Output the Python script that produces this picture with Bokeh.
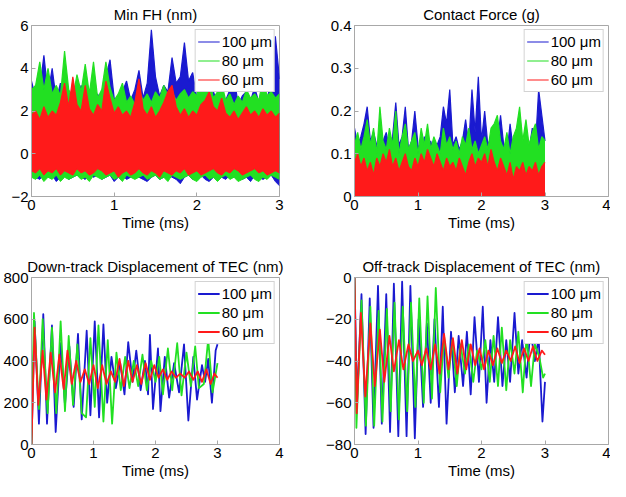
from bokeh.plotting import figure
from bokeh.layouts import gridplot
from bokeh.models import Range1d, FixedTicker
from bokeh.embed import file_html
from bokeh.resources import INLINE

FONT = "Liberation Sans"
FS = "15px"
FRAME = "#a8a8a8"
C100 = "#1a1ad0"
C80 = "#22e022"
C60 = "#ff1a1a"
labels = ["100 \u03bcm", "80 \u03bcm", "60 \u03bcm"]

# ---------------- Min FH (nm): sampled envelopes every 0.05 ms ----------------
t_dense = [round(0.05 * i, 2) for i in range(61)]

fh_up_100 = [3.4, 2.6, 3.0, 4.6, 2.8, 4.0, 2.5, 3.3, 2.6, 2.4, 2.9, 2.3, 3.2, 2.5, 3.0, 2.4,
             2.8, 2.3, 3.6, 4.4, 2.6, 2.4, 2.9, 3.4, 2.5, 3.0, 3.9, 2.6, 3.3, 5.8, 3.6, 2.7,
             3.2, 2.9, 4.5, 3.3, 3.6, 5.2, 3.4, 3.8, 2.6, 3.0, 3.2, 2.5, 2.9, 2.4, 2.8, 2.5,
             3.0, 3.6, 2.3, 2.7, 2.9, 2.5, 3.1, 2.4, 2.8, 2.6, 3.3, 5.5, 3.5]
fh_lo_100 = [-1.0, -1.1, -1.2, -1.0, -1.1, -1.0, -1.3, -1.1, -1.0, -1.2, -1.1, -1.0, -1.1, -1.2,
             -1.0, -1.1, -1.0, -1.2, -1.1, -1.0, -1.3, -1.1, -1.0, -1.2, -1.1, -1.0, -1.1, -1.2,
             -1.3, -1.1, -1.0, -1.2, -1.1, -1.0, -1.1, -1.2, -1.4, -1.1, -1.0, -1.2, -1.1, -1.0,
             -1.2, -1.3, -1.1, -1.0, -1.1, -1.2, -1.0, -1.1, -1.0, -1.2, -1.1, -1.3, -1.0, -1.1,
             -1.2, -1.1, -1.0, -1.3, -1.5]
fh_up_80 = [3.0, 3.2, 4.3, 3.0, 4.0, 2.8, 3.2, 2.7, 4.8, 3.0, 2.6, 3.7, 2.9, 4.2, 2.8, 4.3,
            2.6, 3.0, 4.3, 3.1, 2.5, 2.8, 3.3, 2.4, 2.7, 2.3, 3.0, 2.5, 2.8, 2.4, 2.9, 2.6,
            3.2, 2.7, 2.9, 2.5, 2.8, 3.0, 2.6, 2.9, 2.7, 3.9, 3.0, 3.5, 2.6, 2.9, 3.3, 2.5,
            2.8, 2.3, 2.7, 2.4, 3.0, 2.6, 2.8, 2.5, 3.5, 2.7, 2.9, 2.6, 2.8]
fh_lo_80 = [-1.1, -1.2, -1.0, -1.3, -1.1, -1.2, -1.0, -1.3, -1.1, -1.2, -1.1, -1.0, -1.2, -1.1,
            -1.3, -1.0, -1.1, -1.2, -1.1, -1.0, -1.2, -1.1, -1.3, -1.0, -1.1, -1.2, -1.1, -1.0,
            -1.2, -1.1, -1.0, -1.2, -1.1, -1.3, -1.0, -1.1, -1.2, -1.1, -1.0, -1.2, -1.3, -1.1,
            -1.0, -1.2, -1.1, -1.3, -1.1, -1.0, -1.2, -1.1, -1.3, -1.2, -1.1, -1.0, -1.2, -1.3,
            -1.1, -1.2, -1.0, -1.1, -1.2]
fh_up_60 = [1.8, 2.0, 1.6, 2.2, 1.7, 2.0, 1.8, 2.4, 3.3, 2.2, 3.6, 2.3, 2.0, 3.2, 2.1, 1.8,
            2.3, 2.0, 3.4, 2.6, 1.9, 2.2, 1.8, 2.0, 1.7, 2.4, 3.5, 2.1, 1.8, 2.2, 1.7, 2.0,
            2.4, 2.9, 3.2, 2.2, 1.8, 2.1, 1.7, 2.0, 1.8, 2.3, 2.5, 2.9, 2.2, 2.0, 2.6, 1.9,
            1.7, 2.0, 1.6, 1.9, 2.2, 1.8, 2.0, 1.7, 2.1, 1.8, 2.0, 1.7, 1.9]
fh_lo_60 = [-0.8, -0.9, -0.7, -1.0, -0.8, -0.9, -0.7, -1.0, -0.8, -0.9, -1.0, -0.7, -0.9, -0.8,
            -1.0, -0.9, -0.7, -0.8, -1.0, -0.9, -0.8, -1.1, -0.9, -0.8, -1.0, -0.9, -0.7, -0.9,
            -1.0, -0.8, -0.9, -1.1, -0.8, -0.9, -1.0, -0.8, -0.9, -0.7, -1.0, -0.9, -0.8, -1.0,
            -0.9, -0.8, -0.7, -0.9, -1.0, -0.8, -0.9, -0.7, -0.8, -1.0, -0.9, -0.8, -0.7, -0.9,
            -0.8, -1.0, -0.9, -0.8, -0.9]

# ---------------- Contact Force (g): upper envelopes every 0.05 ms ----------------
cf_up_100 = [0.16, 0.12, 0.14, 0.17, 0.21, 0.13, 0.15, 0.12, 0.10, 0.13, 0.15, 0.11, 0.14, 0.22,
             0.12, 0.14, 0.21, 0.11, 0.13, 0.20, 0.12, 0.10, 0.14, 0.11, 0.13, 0.10, 0.12, 0.14,
             0.21, 0.17, 0.25, 0.12, 0.14, 0.11, 0.13, 0.18, 0.12, 0.25, 0.15, 0.28, 0.13, 0.20,
             0.12, 0.14, 0.11, 0.13, 0.19, 0.12, 0.10, 0.17, 0.11, 0.13, 0.10, 0.12, 0.14, 0.11,
             0.16, 0.12, 0.25, 0.19, 0.13]
cf_up_80 = [0.12, 0.15, 0.11, 0.14, 0.18, 0.12, 0.16, 0.10, 0.21, 0.13, 0.11, 0.16, 0.12, 0.20,
            0.10, 0.14, 0.17, 0.11, 0.13, 0.15, 0.10, 0.16, 0.12, 0.17, 0.11, 0.14, 0.12, 0.10,
            0.16, 0.12, 0.14, 0.11, 0.13, 0.10, 0.14, 0.12, 0.16, 0.11, 0.13, 0.10, 0.12, 0.14,
            0.11, 0.16, 0.17, 0.19, 0.13, 0.11, 0.15, 0.10, 0.14, 0.16, 0.21, 0.13, 0.18, 0.12,
            0.15, 0.17, 0.11, 0.14, 0.13]
cf_up_60 = [0.08, 0.10, 0.07, 0.09, 0.06, 0.08, 0.05, 0.09, 0.07, 0.10, 0.08, 0.11, 0.07, 0.09,
            0.06, 0.08, 0.10, 0.07, 0.06, 0.09, 0.07, 0.10, 0.08, 0.11, 0.09, 0.07, 0.10, 0.08,
            0.06, 0.09, 0.07, 0.08, 0.06, 0.09, 0.07, 0.05, 0.08, 0.10, 0.07, 0.09, 0.08, 0.10,
            0.07, 0.11, 0.08, 0.06, 0.09, 0.07, 0.05, 0.08, 0.04, 0.07, 0.06, 0.08, 0.05, 0.07,
            0.06, 0.08, 0.05, 0.07, 0.08]

# ---------------- Down-track displacement (nm): extrema ----------------
dt_t_100 = [0.00, 0.05, 0.12, 0.19, 0.25, 0.33, 0.39, 0.47, 0.54, 0.61, 0.68, 0.75, 0.81, 0.89,
            0.95, 1.02, 1.09, 1.16, 1.22, 1.29, 1.36, 1.43, 1.50, 1.56, 1.63, 1.69, 1.76, 1.83,
            1.88, 1.91, 1.96, 2.04, 2.08, 2.15, 2.22, 2.30, 2.38, 2.46, 2.53, 2.61, 2.67, 2.75,
            2.80, 2.85, 2.91, 2.97, 3.00]
dt_v_100 = [0, 590, 100, 625, 100, 570, 60, 485, 190, 470, 180, 530, 120, 545, 140, 590, 130,
            575, 200, 420, 270, 390, 240, 490, 300, 450, 260, 400, 240, 525, 170, 460, 160, 420,
            225, 390, 250, 480, 115, 420, 215, 380, 300, 410, 200, 450, 480]
dt_t_80 = [0.00, 0.04, 0.12, 0.18, 0.26, 0.33, 0.40, 0.47, 0.54, 0.60, 0.67, 0.74, 0.81, 0.88,
           0.95, 1.02, 1.08, 1.16, 1.23, 1.30, 1.37, 1.44, 1.51, 1.58, 1.65, 1.72, 1.79, 1.86,
           1.93, 2.00, 2.06, 2.12, 2.20, 2.27, 2.35, 2.42, 2.50, 2.57, 2.64, 2.70, 2.78, 2.85,
           2.92, 3.00]
dt_v_80 = [0, 630, 170, 600, 150, 560, 150, 590, 160, 520, 190, 480, 150, 130, 510, 180, 570,
           110, 500, 100, 440, 260, 420, 270, 400, 280, 430, 260, 400, 300, 420, 240, 460, 260,
           485, 235, 440, 280, 470, 270, 290, 505, 250, 390]
dt_t_60 = [0.00, 0.05, 0.11, 0.18, 0.24, 0.31, 0.38, 0.45, 0.52, 0.58, 0.65, 0.72, 0.79, 0.86,
           0.93, 1.00, 1.07, 1.14, 1.21, 1.28, 1.35, 1.42, 1.49, 1.56, 1.63, 1.70, 1.77, 1.84,
           1.91, 1.98, 2.05, 2.12, 2.19, 2.26, 2.33, 2.40, 2.47, 2.54, 2.61, 2.68, 2.75, 2.82,
           2.89, 2.95, 3.00]
dt_v_60 = [0, 560, 190, 450, 215, 440, 250, 430, 265, 450, 290, 400, 300, 360, 290, 380, 270,
           380, 290, 350, 300, 410, 280, 400, 300, 380, 290, 390, 310, 380, 320, 360, 310, 350,
           320, 340, 320, 350, 310, 350, 300, 360, 290, 340, 320]

# ---------------- Off-track displacement (nm): extrema ----------------
ot_t_100 = [0.00, 0.04, 0.11, 0.175, 0.24, 0.30, 0.37, 0.43, 0.50, 0.56, 0.62, 0.69, 0.75, 0.82,
            0.88, 0.95, 1.01, 1.08, 1.14, 1.20, 1.26, 1.33, 1.39, 1.45, 1.52, 1.58, 1.64, 1.71,
            1.77, 1.83, 1.89, 1.96, 2.02, 2.08, 2.14, 2.20, 2.26, 2.33, 2.39, 2.45, 2.52, 2.58,
            2.64, 2.71, 2.77, 2.84, 2.90, 2.96, 3.00]
ot_v_100 = [0, -60, -8, -75, -10, -72, -4, -70, -8, -74, -3, -76, -2, -76, -4, -77, -20, -62,
            -22, -60, -20, -62, -14, -70, -26, -55, -28, -52, -26, -56, -19, -50, -14, -60, -30,
            -50, -19, -52, -30, -50, -17, -46, -30, -48, -25, -40, -29, -69, -50]
ot_t_80 = [0.00, 0.03, 0.11, 0.18, 0.25, 0.31, 0.38, 0.44, 0.51, 0.57, 0.63, 0.70, 0.76, 0.83,
           0.89, 0.96, 1.02, 1.09, 1.15, 1.22, 1.28, 1.35, 1.41, 1.48, 1.54, 1.61, 1.67, 1.74,
           1.80, 1.87, 1.93, 2.00, 2.06, 2.13, 2.19, 2.26, 2.32, 2.39, 2.45, 2.52, 2.58, 2.65,
           2.71, 2.78, 2.84, 2.91, 2.97, 3.00]
ot_v_80 = [0, -72, -11, -71, -14, -71, -16, -69, -15, -64, -12, -68, -14, -64, -12, -62, -10,
           -60, -9, -58, -5, -55, -28, -48, -30, -52, -32, -46, -32, -50, -35, -44, -30, -50,
           -28, -52, -24, -54, -30, -46, -26, -55, -28, -52, -32, -38, -48, -46]
ot_t_60 = [0.00, 0.035, 0.10, 0.17, 0.25, 0.32, 0.40, 0.47, 0.55, 0.62, 0.70, 0.77, 0.85, 0.92,
           1.00, 1.06, 1.13, 1.20, 1.27, 1.34, 1.41, 1.48, 1.55, 1.62, 1.69, 1.76, 1.83, 1.90,
           1.97, 2.04, 2.11, 2.18, 2.25, 2.32, 2.39, 2.46, 2.53, 2.60, 2.67, 2.74, 2.81, 2.88,
           2.95, 3.00]
ot_v_60 = [0, -65, -17, -57, -22, -52, -25, -50, -28, -45, -30, -44, -32, -40, -35, -42, -34,
           -44, -32, -46, -27, -44, -29, -46, -30, -44, -32, -42, -34, -44, -35, -42, -34, -41,
           -35, -40, -33, -41, -34, -40, -33, -40, -35, -37]


def make_fig(title, xr, yr, xticks, yticks, w, h, bl, br, bt, bb):
    p = figure(width=w, height=h, x_range=Range1d(*xr), y_range=Range1d(*yr),
               output_backend="svg", toolbar_location=None, title=title,
               min_border_left=bl, min_border_right=br, min_border_top=bt, min_border_bottom=bb)
    p.xgrid.visible = False
    p.ygrid.visible = False
    p.outline_line_color = FRAME
    p.outline_line_width = 1
    p.background_fill_color = "white"
    p.title.text_font = FONT
    p.title.text_font_size = FS
    p.title.text_font_style = "normal"
    p.title.text_color = "black"
    p.title.align = "center"
    p.title.standoff = 5
    p.xaxis.ticker = FixedTicker(ticks=xticks)
    p.yaxis.ticker = FixedTicker(ticks=yticks)
    p.xaxis.axis_label = "Time (ms)"
    for ax in list(p.xaxis) + list(p.yaxis):
        ax.axis_line_color = FRAME
        ax.major_tick_line_color = FRAME
        ax.major_tick_in = 4
        ax.major_tick_out = 0
        ax.minor_tick_line_color = None
        ax.major_label_text_font = FONT
        ax.major_label_text_font_size = FS
        ax.major_label_text_color = "black"
        ax.major_label_standoff = 3
        ax.axis_label_text_font = FONT
        ax.axis_label_text_font_size = FS
        ax.axis_label_text_font_style = "normal"
        ax.axis_label_text_color = "black"
        ax.axis_label_standoff = 1
    return p


def style_legend(p):
    lg = p.legend[0]
    lg.location = "top_right"
    lg.margin = 4
    lg.padding = 2
    lg.spacing = 0
    lg.label_standoff = 2
    lg.glyph_width = 22
    lg.glyph_height = 19
    lg.label_height = 19
    lg.label_text_font = FONT
    lg.label_text_font_size = FS
    lg.label_text_color = "black"
    lg.border_line_color = FRAME
    lg.border_line_width = 1
    lg.background_fill_alpha = 1.0


# Panel 1: Min FH
p1 = make_fig("Min FH (nm)", (0, 3), (-2, 6), [0, 1, 2, 3], [-2, 0, 2, 4, 6],
              305, 248, 19, 26, 25, 52)
for up, lo, c, lab in ((fh_up_100, fh_lo_100, C100, labels[0]),
                       (fh_up_80, fh_lo_80, C80, labels[1]),
                       (fh_up_60, fh_lo_60, C60, labels[2])):
    p1.varea(x=t_dense, y1=lo, y2=up, fill_color=c)
    p1.line(t_dense, up, line_color=c, line_width=1.2, legend_label=lab)
    p1.line(t_dense, lo, line_color=c, line_width=1)
style_legend(p1)

# Panel 2: Contact Force
p2 = make_fig("Contact Force (g)", (0, 4), (0, 0.4), [0, 1, 2, 3, 4], [0, 0.1, 0.2, 0.3, 0.4],
              305, 248, 49, 2, 25, 52)
for up, c, lab in ((cf_up_100, C100, labels[0]), (cf_up_80, C80, labels[1]),
                   (cf_up_60, C60, labels[2])):
    p2.varea(x=t_dense, y1=0, y2=up, fill_color=c)
    p2.line(t_dense, up, line_color=c, line_width=1.2, legend_label=lab)
style_legend(p2)

# Panel 3: Down-track
p3 = make_fig("Down-track Displacement of TEC (nm)", (0, 4), (0, 800), [0, 1, 2, 3, 4],
              [0, 200, 400, 600, 800], 305, 233, 23, 26, 29, 37)
for tt, vv, c, lab in ((dt_t_100, dt_v_100, C100, labels[0]), (dt_t_80, dt_v_80, C80, labels[1]),
                       (dt_t_60, dt_v_60, C60, labels[2])):
    p3.line(tt, vv, line_color=c, line_width=1.8, line_join="round", legend_label=lab)
style_legend(p3)

# Panel 4: Off-track
p4 = make_fig("Off-track Displacement of TEC (nm)", (0, 4), (-80, 0), [0, 1, 2, 3, 4],
              [-80, -60, -40, -20, 0], 305, 233, 49, 2, 29, 37)
for tt, vv, c, lab in ((ot_t_100, ot_v_100, C100, labels[0]), (ot_t_80, ot_v_80, C80, labels[1]),
                       (ot_t_60, ot_v_60, C60, labels[2])):
    p4.line(tt, vv, line_color=c, line_width=1.8, line_join="round", legend_label=lab)
style_legend(p4)

grid = gridplot([[p1, p2], [p3, p4]], toolbar_location=None)
open("out.html", "w").write(file_html(grid, INLINE))
